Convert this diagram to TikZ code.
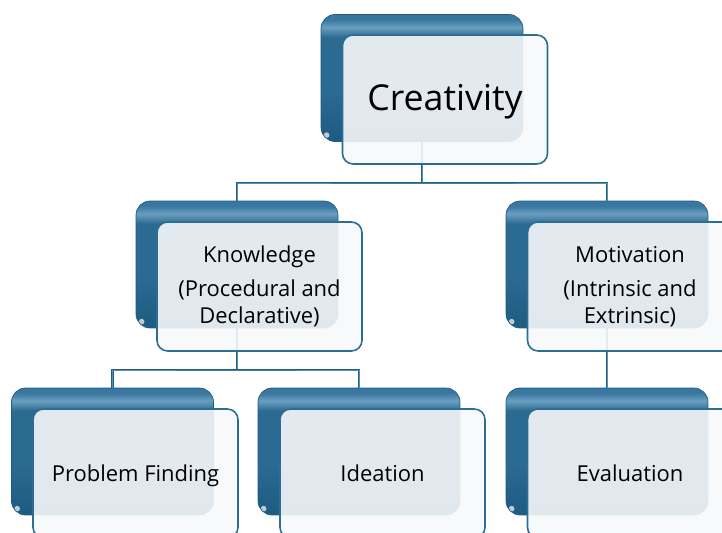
\documentclass[tikz,border=0pt]{standalone}
\usepackage{fontspec}
\setmainfont{Open Sans}
\usepackage{tikz}

\definecolor{boxblue}{HTML}{2B6A91}
\definecolor{boxtop}{HTML}{6A9FC0}
\definecolor{boxrim}{HTML}{3A77A0}
\definecolor{boxlow}{HTML}{1D5B81}
\definecolor{cardline}{HTML}{2B6D94}
\definecolor{cardfill}{HTML}{F6F8FA}
\definecolor{linkblue}{HTML}{215E84}
\definecolor{linkmid}{HTML}{5A8FB2}

% glossy look of the dark boxes
\pgfdeclareverticalshading{boxgloss}{100bp}{color(0bp)=(boxlow); color(25bp)=(boxlow);
  color(45bp)=(boxblue); color(66bp)=(boxblue); color(70bp)=(boxtop);
  color(73bp)=(boxrim); color(75bp)=(boxrim); color(100bp)=(boxrim)}

\tikzset{
  backbox/.style={rectangle, rounded corners=8pt, inner sep=0pt,
    minimum width=4.04cm, minimum height=2.54cm,
    shading=boxgloss, draw=boxlow, line width=0.4pt,
    path picture={
      \fill[white, opacity=0.7]
        ([shift={(3.2pt,3.6pt)}]path picture bounding box.south west)
        circle (1.6pt);
    }},
  card/.style={rectangle, rounded corners=6pt, inner sep=0pt,
    minimum width=4.1cm, minimum height=2.58cm,
    draw=cardline, line width=0.9pt, fill=cardfill, fill opacity=0.9,
    text opacity=1, align=center, font=\fontsize{12.5}{15.5}\selectfont},
  oneline/.style={text height=11pt, text depth=1.4pt},
  link/.style={draw=linkblue, line width=0.55pt, double=linkmid,
    double distance=0.5pt},
}

\begin{document}
\begin{tikzpicture}[x=0.02cm, y=-0.02cm]
\useasboundingbox (0,0) rectangle (722,533);

% back boxes
\node[backbox] (creat-b) at (422,78) {};
\node[backbox] (know-b) at (237,264.5) {};
\node[backbox] (motiv-b) at (607,264.5) {};
\node[backbox] (probf-b) at (112.5,451.5) {};
\node[backbox] (ideat-b) at (359,451.5) {};
\node[backbox] (evalu-b) at (607,451.5) {};

% tree lines, they run under the cards
\coordinate (bus1) at (422,183);
\coordinate (bus2) at (237,370);
\draw[link] (creat-b.south) -- (bus1);
\draw[link] (know-b.north) |- (bus1) -| (motiv-b.north);
\draw[link] (know-b.south) -- (bus2);
\draw[link] (probf-b.north) |- (bus2) -| (ideat-b.north);
\draw[link] (motiv-b.south) -- (evalu-b.north);

% front cards with the text
\node[card, text height=16pt, text depth=4pt, font=\fontsize{20.3}{24}\selectfont]
  (creat) at (445,99.5) {Creativity};
\node[card] (know) at (259.5,286.5) {Knowledge\\[4pt](Procedural and\\Declarative)};
\node[card] (motiv) at (630,286.5) {Motivation\\[4pt](Intrinsic and\\Extrinsic)};
\node[card, oneline] (probf) at (135.5,473.5) {Problem Finding};
\node[card, oneline] (ideat) at (382.5,473.5) {Ideation};
\node[card, oneline] (evalu) at (630,473.5) {Evaluation};

\end{tikzpicture}
\end{document}
